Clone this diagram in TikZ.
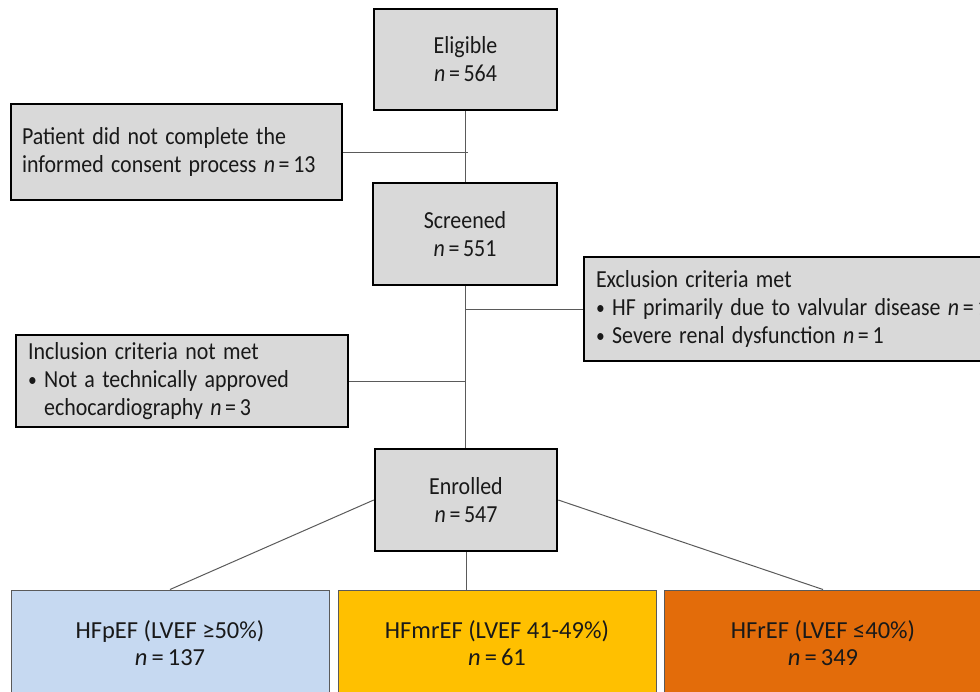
\documentclass[tikz,border=0pt]{standalone}
\usepackage{fontspec}
\setmainfont{Carlito}
\definecolor{boxgray}{RGB}{217,217,217}
\definecolor{linegray}{RGB}{90,90,90}
\definecolor{pblue}{RGB}{198,217,241}
\definecolor{myellow}{RGB}{255,192,0}
\definecolor{rorange}{RGB}{227,108,10}
\newcommand{\nn}{\textit{n}\,=\,}
\newcommand{\sx}[1]{\scalebox{0.895}[1]{#1}}
\newcommand{\bul}{\makebox[18pt][l]{\raisebox{1pt}{\scalebox{0.8}{\textbullet}}}}
\tikzset{
  gbox/.style={draw=black, line width=2.5pt, fill=boxgray, inner sep=0pt, font=\fontsize{24.5}{28}\selectfont, text=black!90},
  cbox/.style={gbox, align=center},
  lbox/.style={gbox, align=left, text width=#1},
  ebox/.style={draw=linegray, line width=1pt, inner sep=0pt, align=center, minimum width=318pt, minimum height=107pt, font=\fontsize{24.5}{27}\selectfont, text=black!90},
  conn/.style={draw=linegray, line width=1pt}
}
\begin{document}
\begin{tikzpicture}[x=1pt,y=-1pt]
\useasboundingbox (0,0) rectangle (980,691);
\clip (0,0) rectangle (980,691);
\node[cbox, minimum width=183pt, minimum height=101pt] (elig) at (465.5,59.5) {\sx{Eligible}\\\sx{\nn564}};
\node[cbox, minimum width=184pt, minimum height=102pt] (screen) at (465,234) {\sx{Screened}\\\sx{\nn551}};
\node[cbox, minimum width=182pt, minimum height=102pt] (enrol) at (466,500) {\sx{Enrolled}\\\sx{\nn547}};
\node[lbox=309pt, minimum width=331pt, minimum height=96pt] (pat) at (176.5,152) {\sx{Patient did not complete the}\\\sx{informed consent process \nn13}};
\node[lbox=396pt, minimum width=420pt, minimum height=104pt] (excl) at (794,309) {\sx{Exclusion criteria met}\\\sx{\bul HF primarily due to valvular disease \nn1}\\\sx{\bul Severe renal dysfunction \nn1}};
\node[lbox=308pt, minimum width=332pt, minimum height=92pt] (incl) at (182,381) {\sx{Inclusion criteria not met}\\\sx{\bul Not a technically approved}\\\sx{\hspace*{18pt}echocardiography \nn3}};
\node[ebox, fill=pblue] (pef) at (170,643.5) {HFpEF (LVEF ≥50\%)\\\nn137};
\node[ebox, fill=myellow] (mref) at (497,643.5) {HFmrEF (LVEF 41-49\%)\\\nn61};
\node[ebox, fill=rorange] (ref) at (823,643.5) {HFrEF (LVEF ≤40\%)\\\nn349};
\draw[conn] (elig.south) -- (elig.south |- screen.north);
\draw[conn] (pat.east) -- ([xshift=2pt]elig.south |- pat.east);
\draw[conn] (screen.south) -- (screen.south |- enrol.north);
\draw[conn] (excl.west) -- (screen.south |- excl.west);
\draw[conn] (incl.east) -- (screen.south |- incl.east);
\draw[conn] (enrol.west) -- (pef.north);
\draw[conn] (enrol.south) -- (enrol.south |- mref.north);
\draw[conn] (enrol.east) -- (ref.north);
\end{tikzpicture}
\end{document}
